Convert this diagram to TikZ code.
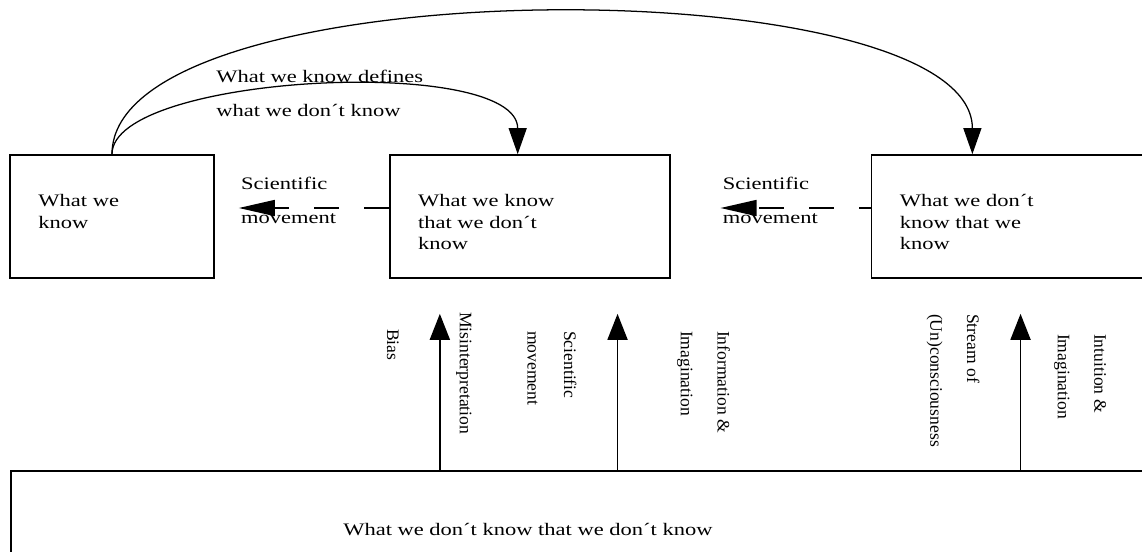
\documentclass[tikz,border=0pt]{standalone}
\usepackage{fontspec}
\setmainfont{Liberation Serif}
\newfontfamily\widefont[FakeStretch=1.28]{Liberation Serif}
\usetikzlibrary{positioning,arrows.meta,calc}

\begin{document}
\begin{tikzpicture}[
    stagebox/.style={rectangle, draw, line width=1.2pt, minimum height=3.075cm, inner sep=0pt},
    boxtext/.style={anchor=north west, inner sep=0pt, align=left, font=\widefont\fontsize{12.5}{15.4}\selectfont},
    lbl/.style={inner sep=0pt, font=\widefont\fontsize{12.5}{15}\selectfont},
    sidelbl/.style={inner sep=0pt, rotate=-90, anchor=west, align=left, font=\fontsize{12.5}{15}\selectfont},
    uparrow/.style={-{Triangle[length=0.65cm,width=0.5cm]}, line width=1.3pt},
    curvearrow/.style={-{Triangle[length=0.65cm,width=0.45cm]}, line width=0.9pt},
    movearrow/.style={-{Triangle[length=0.9cm,width=0.4cm]}, line width=1.1pt, dash pattern=on 0.625cm off 0.625cm}
  ]
  \useasboundingbox (0,0) rectangle (28.55,-13.8);

  % Top row: the three states of knowing
  \node[stagebox, minimum width=5.1cm] (know) at (2.8,-5.4125) {};
  \node[stagebox, minimum width=7cm, right=4.35cm of know] (knowdont) {};
  \node[stagebox, minimum width=6.8cm, right=5cm of knowdont] (dontknow) {};

  % Bottom: the unknown unknowns
  \node[stagebox, minimum width=29cm, minimum height=3cm, anchor=north west] (unknown) at (0.25,-11.75) {};

  \node[boxtext] (knowtxt) at ($(know.north west)+(0.725,-1.0)$) {What we\\know};
  \node[boxtext] (knowdonttxt) at ($(knowdont.north west)+(0.725,-1.0)$) {What we know\\that we don´t\\know};
  \node[boxtext] (dontknowtxt) at ($(dontknow.north west)+(0.725,-1.0)$) {What we don´t\\know that we\\know};
  \node[lbl, anchor=base west] (unknowntxt) at ($(unknown.north west)+(8.325,-1.625)$) {What we don´t know that we don´t know};

  % Scientific movement between the boxes
  \coordinate (tip1) at ($(know.east)+(0.6,0.2125)$);
  \coordinate (tip2) at ($(knowdont.east)+(1.25,0.2125)$);
  \draw[movearrow] (knowdont.west |- tip1) -- (tip1);
  \draw[movearrow, dash phase=0.325cm] (dontknow.west |- tip2) -- (tip2);
  \node[lbl, anchor=base west] (sci1) at ($(tip1)+(0.05,0.475)$) {Scientific};
  \node[lbl, anchor=base west] (mov1) at ($(tip1)+(0.05,-0.375)$) {movement};
  \node[lbl, anchor=base west] (sci2) at ($(tip2)+(0.05,0.475)$) {Scientific};
  \node[lbl, anchor=base west] (mov2) at ($(tip2)+(0.05,-0.375)$) {movement};

  % Curved arrows over the top
  \coordinate (inend) at ($(knowdont.north)+(-0.3,0)$);
  \coordinate (outend) at ($(dontknow.north)+(-0.875,0)$);
  \draw[curvearrow] (know.north) .. controls +(0,2) and +(0,2.5) .. (inend);
  \draw[curvearrow] (know.north) .. controls +(0,4.7) and +(0,4.7) .. (outend);
  \node[lbl, anchor=base west] (def1) at ($(know.north)+(2.6,1.8)$) {What we know defines};
  \node[lbl, anchor=base west] (def2) at ($(know.north)+(2.6,0.95)$) {what we don´t know};

  % Arrows rising from the unknown
  \coordinate (up1) at ($(knowdont.south west)+(1.275,-0.875)$);
  \coordinate (up2) at ($(knowdont.south east)+(-1.325,-0.875)$);
  \coordinate (up3) at ($(dontknow.south west)+(3.75,-0.875)$);
  \draw[uparrow] (up1 |- unknown.north) -- (up1);
  \draw[uparrow] (up2 |- unknown.north) -- (up2);
  \draw[uparrow] (up3 |- unknown.north) -- (up3);

  \node[sidelbl] (bias) at ($(up1)+(-1.175,-0.375)$) {Bias};
  \node[sidelbl] (misint) at ($(up1)+(0.6,0.05)$) {Misinterpretation};
  \node[sidelbl] (scimove) at ($(up2)+(-1.6375,-0.425)$) {Scientific\\[11pt]movement};
  \node[sidelbl] (infoimag) at ($(up2)+(2.15,-0.425)$) {Information \&\\[11pt]Imagination};
  \node[sidelbl] (stream) at ($(up3)+(-1.6875,0)$) {Stream of\\[11pt](Un)consciousness};
  \node[sidelbl] (intuit) at ($(up3)+(1.4875,-0.5)$) {Intuition \&\\[11pt]Imagination};

\end{tikzpicture}
\end{document}
